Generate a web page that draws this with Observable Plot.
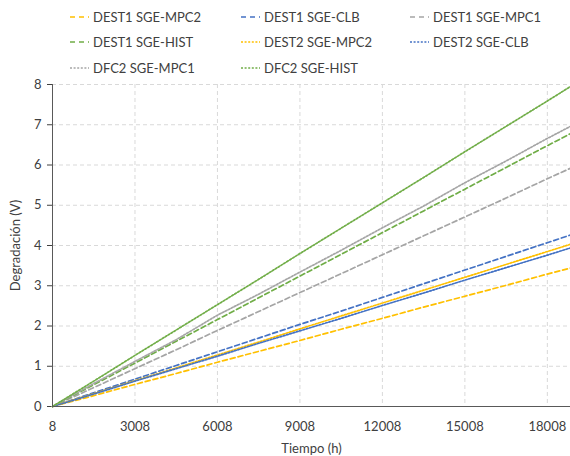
<!DOCTYPE html>
<html><head><meta charset="utf-8">
<script src="https://cdn.jsdelivr.net/npm/d3@7"></script>
<script src="https://cdn.jsdelivr.net/npm/@observablehq/plot@0.6"></script>
<style>
body{margin:0;background:#fff;font-family:Lato,"Open Sans",sans-serif;}
#legend{position:relative;width:570px;height:76px;font-size:13px;color:#404040;}
.item{position:absolute;display:flex;align-items:center;height:16px;white-space:nowrap;}
.item svg{margin-right:4px}
</style></head>
<body>
<div id="legend"></div>
<div id="chart"></div>
<script>
const hours = [8, 1508, 3008, 4508, 6008, 7508, 9008, 10508, 12008, 13508, 15008, 16508, 18008, 18850];
const seriesNames = ["DEST1 SGE-MPC2","DEST1 SGE-CLB","DEST1 SGE-MPC1","DEST1 SGE-HIST","DEST2 SGE-MPC2","DEST2 SGE-CLB","DFC2 SGE-MPC1","DFC2 SGE-HIST"];
const dest1Mpc2 = [0, 0.27, 0.55, 0.82, 1.10, 1.37, 1.64, 1.92, 2.19, 2.47, 2.74, 3.01, 3.29, 3.44];
const dest1Clb  = [0, 0.34, 0.68, 1.02, 1.36, 1.70, 2.04, 2.37, 2.71, 3.05, 3.39, 3.73, 4.07, 4.26];
const dest1Mpc1 = [0, 0.47, 0.94, 1.41, 1.89, 2.36, 2.83, 3.30, 3.77, 4.24, 4.71, 5.18, 5.66, 5.92];
const dest1Hist = [0, 0.54, 1.08, 1.62, 2.16, 2.70, 3.24, 3.78, 4.32, 4.86, 5.40, 5.94, 6.48, 6.78];
const dest2Mpc2 = [0, 0.32, 0.64, 0.96, 1.28, 1.60, 1.93, 2.25, 2.57, 2.89, 3.21, 3.53, 3.85, 4.03];
const dest2Clb  = [0, 0.31, 0.63, 0.94, 1.25, 1.57, 1.88, 2.19, 2.51, 2.82, 3.14, 3.45, 3.76, 3.94];
const dfc2Mpc1  = [0, 0.57, 1.12, 1.66, 2.27, 2.79, 3.34, 3.88, 4.44, 4.98, 5.56, 6.10, 6.66, 6.96];
const dfc2Hist  = [0, 0.63, 1.27, 1.90, 2.53, 3.16, 3.80, 4.43, 5.06, 5.69, 6.33, 6.96, 7.59, 7.95];
const xTicks = [8, 3008, 6008, 9008, 12008, 15008, 18008];
const yTicks = [0, 1, 2, 3, 4, 5, 6, 7, 8];

const values = [dest1Mpc2, dest1Clb, dest1Mpc1, dest1Hist, dest2Mpc2, dest2Clb, dfc2Mpc1, dfc2Hist];
const colors = ["#FFC000","#4472C4","#A5A5A5","#70AD47","#FFC000","#4472C4","#A5A5A5","#70AD47"];
const dashes = ["5,3","5,3","5,3","5,3","1.8,1.6","1.8,1.6","1.8,1.6","1.8,1.6"];

const data = [];
seriesNames.forEach((s, i) => hours.forEach((h, j) => data.push({series: s, h, v: values[i][j]})));

// legend
const legend = document.getElementById("legend");
const colX = [70, 241, 410];
const rowY = [17, 42, 68];
seriesNames.forEach((s, i) => {
  const d = document.createElement("div");
  d.className = "item";
  d.style.left = colX[i % 3] + "px";
  d.style.top = (rowY[Math.floor(i / 3)] - 8) + "px";
  d.innerHTML = `<svg width="19" height="4"><line x1="0" y1="2" x2="19" y2="2" stroke="${colors[i]}" stroke-width="1.7" stroke-dasharray="${i < 4 ? '5,4' : '2,1.6'}"/></svg><span>${s}</span>`;
  legend.appendChild(d);
});

const marks = [
  Plot.gridY(yTicks.filter(t => t > 0), {stroke: "#d9d9d9", strokeOpacity: 1, strokeDasharray: "4,3"}),
  Plot.gridX(xTicks.filter(t => t > 8), {stroke: "#d9d9d9", strokeOpacity: 1, strokeDasharray: "4,3"}),
  Plot.axisY({ticks: yTicks, tickSize: 5, tickPadding: 6, tickFormat: d => d, label: "Degradación (V)", labelAnchor: "center", labelArrow: "none", labelOffset: 42, fontSize: 13, color: "#404040"}),
  Plot.axisX({ticks: xTicks, tickSize: 0, tickPadding: 15, tickFormat: d => String(d), label: "Tiempo (h)", labelAnchor: "center", labelArrow: "none", labelOffset: 46, fontSize: 13, color: "#404040"}),
];
seriesNames.forEach((s, i) => {
  marks.push(Plot.line(data, {filter: d => d.series === s, x: "h", y: "v", stroke: colors[i], strokeWidth: 1.7, strokeDasharray: dashes[i]}));
});
marks.push(Plot.ruleX([8], {stroke: "#595959", strokeWidth: 1}));
marks.push(Plot.ruleY([0], {stroke: "#595959", strokeWidth: 1}));

const chart = Plot.plot({
  width: 570,
  height: 380,
  marginTop: 8,
  marginBottom: 50,
  marginLeft: 52,
  marginRight: 0,
  style: {fontFamily: "Lato, 'Open Sans', sans-serif", fontSize: "13px", color: "#404040", background: "#fff"},
  x: {domain: [8, 18850]},
  y: {domain: [0, 8]},
  marks
});
document.getElementById("chart").appendChild(chart);
</script>
</body></html>
